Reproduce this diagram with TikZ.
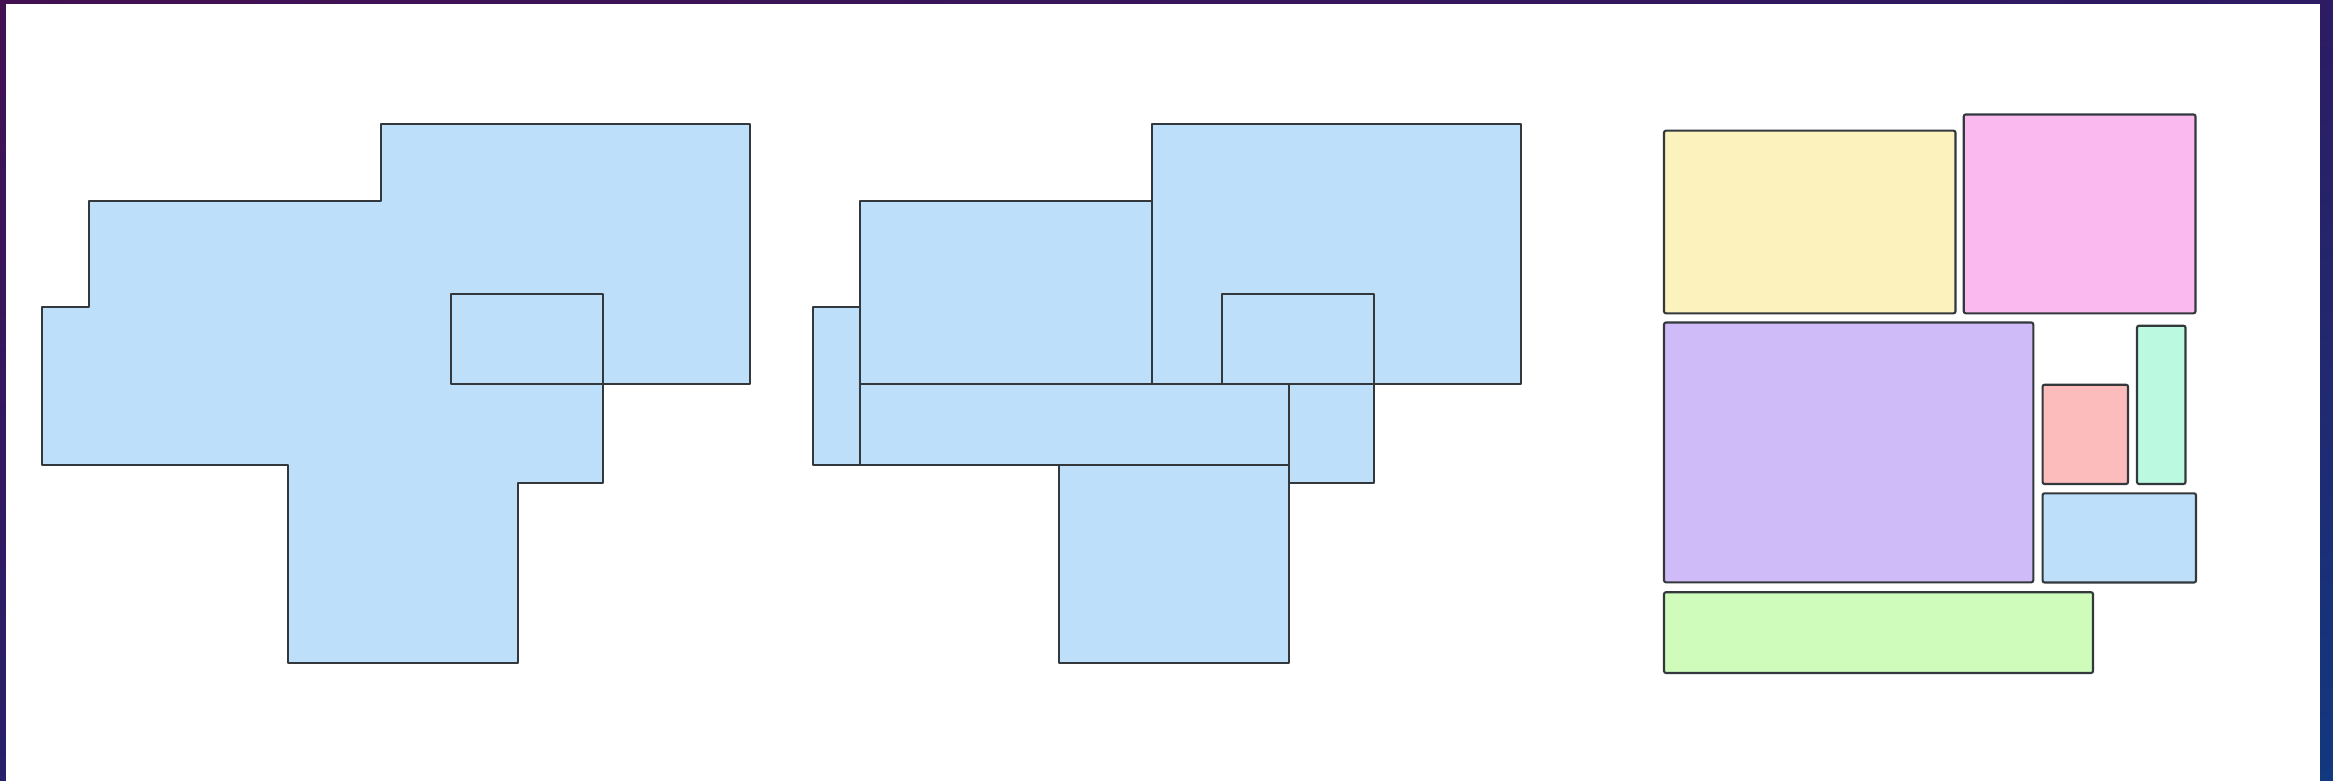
\documentclass[tikz,border=0pt]{standalone}
\usetikzlibrary{shadings}
\definecolor{edge}{HTML}{33383C}
\definecolor{fblue}{HTML}{BDDFF9}
\definecolor{fyellow}{HTML}{FBF2BE}
\definecolor{fpink}{HTML}{FABAEF}
\definecolor{fpurple}{HTML}{D0BBF9}
\definecolor{fred}{HTML}{FDBCBC}
\definecolor{fmint}{HTML}{BBF9E0}
\definecolor{fgreen}{HTML}{CFFBBB}
\definecolor{bgtl}{HTML}{431052}
\definecolor{bgtr}{HTML}{2D1B63}
\definecolor{bgbl}{HTML}{27206A}
\definecolor{bgbr}{HTML}{123880}
\begin{document}
\begin{tikzpicture}[x=1pt,y=-1pt,
  outl/.style={draw=edge,line width=2.1pt,line join=round},
  box/.style={draw=edge,line width=2.1pt,rounded corners=2pt}]
\useasboundingbox (0,0) rectangle (2333,781);
\shade[upper left=bgtl,upper right=bgtr,lower left=bgbl,lower right=bgbr] (0,0) rectangle (2333,781);
\fill[white] (6,4) rectangle (2320,781);
% shape 1: union outline
\path[outl,fill=fblue] (41.7,306.7) -- (89,306.7) -- (89,200.7) -- (380.7,200.7) -- (380.7,124) -- (750,124) -- (750,384) -- (603.3,384) -- (603.3,483.3) -- (518.3,483.3) -- (518.3,663.3) -- (287.7,663.3) -- (287.7,465.2) -- (41.7,465.2) -- cycle;
\path[outl] (450.7,294.4) rectangle (603.3,384);
% shape 2: separate rectangles
\fill[fblue] (812.7,306.7) rectangle (860,465.2);
\fill[fblue] (860,200.7) rectangle (1151.7,384);
\fill[fblue] (1151.7,124) rectangle (1521,384);
\fill[fblue] (860,384) rectangle (1289.3,465.2);
\fill[fblue] (1289.3,384) rectangle (1374.3,483.3);
\fill[fblue] (1058.7,465.2) rectangle (1289.3,663.3);
\path[outl] (812.7,306.7) rectangle (860,465.2);
\path[outl] (860,200.7) rectangle (1151.7,384);
\path[outl] (1151.7,124) rectangle (1521,384);
\path[outl] (1221.7,294.4) rectangle (1374.3,384);
\path[outl] (860,384) rectangle (1289.3,465.2);
\path[outl] (1289.3,384) rectangle (1374.3,483.3);
\path[outl] (1058.7,465.2) rectangle (1289.3,663.3);
% right panel
\path[box,fill=fyellow] (1664,130.7) rectangle (1955.5,313.3);
\path[box,fill=fpink] (1963.7,114.5) rectangle (2195.5,313.3);
\path[box,fill=fpurple] (1664,322.5) rectangle (2033.3,582.3);
\path[box,fill=fred] (2042.6,384.7) rectangle (2128,484);
\path[box,fill=fmint] (2137,325.7) rectangle (2185.5,484);
\path[box,fill=fblue] (2042.6,493.3) rectangle (2196,582.5);
\path[box,fill=fgreen] (1664,592.2) rectangle (2093,673);
\end{tikzpicture}
\end{document}
